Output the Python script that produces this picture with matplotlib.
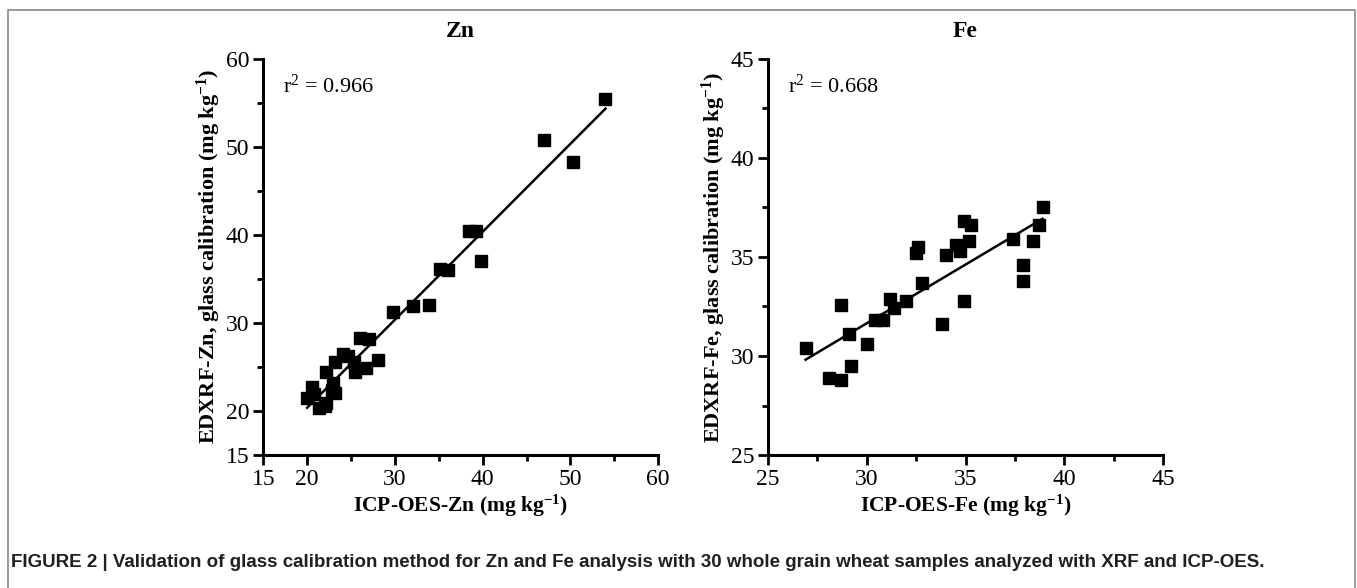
import numpy as np
import matplotlib
matplotlib.use("Agg")
import matplotlib.pyplot as plt
from matplotlib.patches import Rectangle

# Zn: ICP-OES (x) vs EDXRF glass calibration (y), mg/kg
zn_icp = [54.0, 47.0, 50.3, 38.4, 39.3, 39.8, 35.1, 36.0, 33.9, 32.1,
          29.8, 26.0, 27.0, 28.1, 26.7, 25.5, 25.3, 24.1, 24.6, 23.2,
          22.1, 23.0, 23.2, 20.5, 20.0, 20.8, 21.3, 22.2, 22.0, 22.8]
zn_xrf = [55.4, 50.8, 48.3, 40.4, 40.4, 37.0, 36.1, 36.0, 32.1, 31.9,
          31.3, 28.3, 28.2, 25.8, 24.9, 24.4, 25.6, 26.5, 26.2, 25.6,
          24.4, 23.2, 22.1, 22.7, 21.5, 21.9, 20.3, 20.9, 20.6, 22.4]

# Fe
fe_icp = [26.9, 28.1, 28.7, 28.7, 29.1, 29.2, 30.0, 30.4, 30.8, 31.2,
          31.4, 32.0, 32.5, 32.6, 32.8, 33.8, 34.0, 34.5, 34.7, 34.9,
          35.2, 35.3, 34.9, 37.4, 37.9, 37.9, 38.4, 38.7, 38.9]
fe_xrf = [30.4, 28.9, 28.8, 32.6, 31.1, 29.5, 30.6, 31.8, 31.8, 32.9,
          32.4, 32.8, 35.2, 35.5, 33.7, 31.6, 35.1, 35.6, 35.3, 36.8,
          35.8, 36.6, 32.8, 35.9, 34.6, 33.8, 35.8, 36.6, 37.5]

panels = [
    ("Zn", zn_icp, zn_xrf, "0.966", (15, 60), [15, 20, 30, 40, 50, 60], [25, 35, 45, 55]),
    ("Fe", fe_icp, fe_xrf, "0.668", (25, 45), [25, 30, 35, 40, 45], [27.5, 32.5, 37.5, 42.5]),
]

plt.rcParams['font.family'] = ['Liberation Serif', 'DejaVu Serif']
plt.rcParams['mathtext.fontset'] = 'custom'
plt.rcParams['mathtext.rm'] = 'Liberation Serif'
plt.rcParams['mathtext.bf'] = 'Liberation Serif:bold'
plt.rcParams['mathtext.default'] = 'rm'
fig = plt.figure(figsize=(13.57, 5.88), dpi=100)

lefts = [0.194, 0.566]
for left, (el, x, y, r2, lim, major, minor) in zip(lefts, panels):
    ax = fig.add_axes([left, 0.226, 0.291, 0.674])
    ax.plot(x, y, 's', color='black', ms=8.5)
    k, b = np.polyfit(x, y, 1)
    xs = np.array([min(x), max(x)])
    ax.plot(xs, k * xs + b, color='black', lw=1.8)
    ax.set_xlim(lim)
    ax.set_ylim(lim)
    ax.set_xticks(major)
    ax.set_yticks(major)
    ax.set_xticks(minor, minor=True)
    ax.set_yticks(minor, minor=True)
    for s in ['top', 'right']:
        ax.spines[s].set_visible(False)
    for s in ['left', 'bottom']:
        ax.spines[s].set_linewidth(2.2)
    ax.tick_params(which='major', length=7, width=2, labelsize=17, pad=3)
    ax.tick_params(which='minor', length=4, width=2)
    ax.set_title(el, fontsize=17, fontweight='bold', pad=16)
    ax.set_xlabel(f"ICP-OES-{el} (mg kg$^{{\\mathbf{{-1}}}}$)", fontsize=15.5, fontweight='bold', labelpad=2)
    ax.set_ylabel(f"EDXRF-{el}, glass calibration (mg kg$^{{\\mathbf{{-1}}}}$)", fontsize=16, fontweight='bold', labelpad=2)
    ax.text(0.05, 0.93, f"r$^{{2}}$ = {r2}", transform=ax.transAxes, fontsize=16, va='center')

fig.text(0.008, 0.043, "FIGURE 2 | Validation of glass calibration method for Zn and Fe analysis with 30 whole grain wheat samples analyzed with XRF and ICP-OES.",
         fontsize=13.5, fontweight='bold', family=['Liberation Sans', 'DejaVu Sans'], color='#231f20', va='center')

fig.patches.append(Rectangle((0.0059, -0.05), 0.9926, 1.033, transform=fig.transFigure,
                             fill=False, edgecolor='#888888', lw=1.2))

fig.savefig("out.png", dpi=100)
